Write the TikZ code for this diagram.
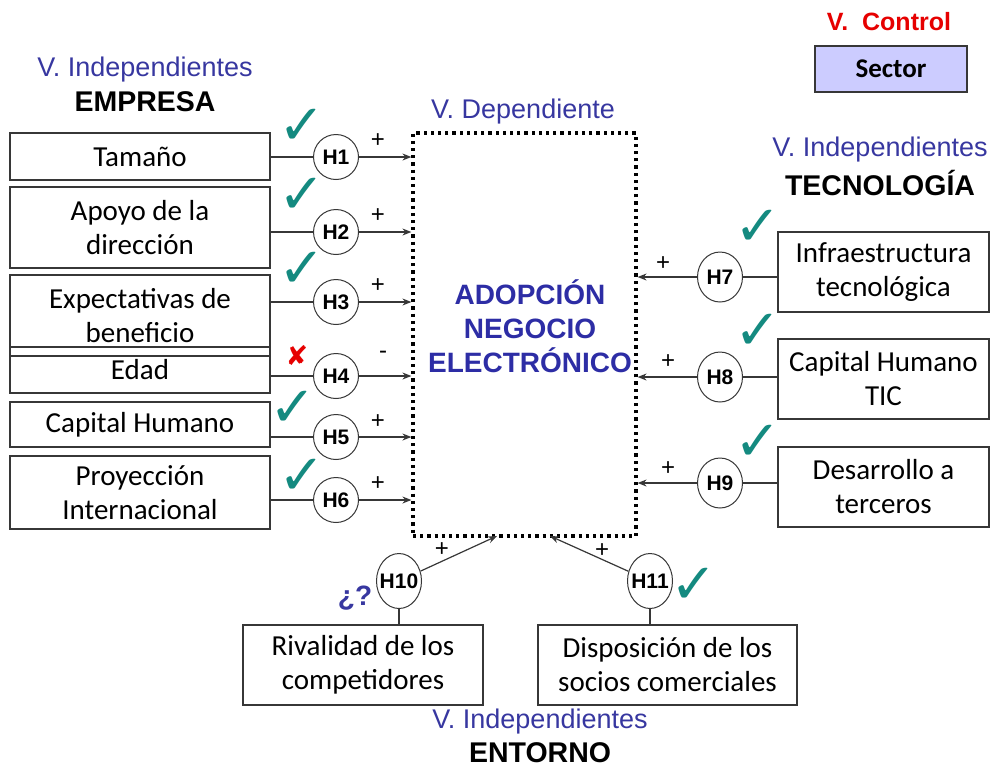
\documentclass[tikz,border=0pt]{standalone}
\usepackage{fontspec}
\setmainfont{Carlito}
\newfontfamily\arialf{Liberation Sans}
\newfontfamily\djv{DejaVu Sans}
\usetikzlibrary{shapes.geometric,arrows.meta}
\definecolor{vblue}{RGB}{55,55,160}
\definecolor{dblue}{RGB}{45,45,165}
\definecolor{teal2}{RGB}{20,138,128}
\definecolor{lav}{RGB}{204,204,255}
\definecolor{boxline}{RGB}{55,55,55}
\definecolor{ctrlred}{RGB}{230,0,0}
\newcommand{\hl}[1]{\makebox[0pt]{#1}}
\begin{document}
\begin{tikzpicture}[x=1pt,y=-1pt,
  vbox/.style={draw=boxline, line width=1.3pt, align=center, inner sep=0pt,
    font=\fontsize{29}{34}\selectfont},
  hyp/.style={ellipse, draw=boxline, fill=white, line width=1pt, minimum width=45pt,
    minimum height=45pt, inner sep=0pt, font=\arialf\bfseries\fontsize{21}{21}\selectfont},
  conn/.style={draw=boxline, line width=1.2pt},
  arr/.style={conn, -{Stealth[length=9pt,width=7pt]}},
  sign/.style={inner sep=0pt, font=\arialf\fontsize{24}{24}\selectfont},
  chk/.style={text=teal2, inner sep=0pt, font=\djv\fontsize{56}{56}\selectfont},
  vlab/.style={text=vblue, inner sep=0pt, font=\arialf\fontsize{27}{27}\selectfont},
  grp/.style={inner sep=0pt, font=\arialf\bfseries\fontsize{28.5}{28.5}\selectfont},
  dotbox/.style={draw=black, line width=3.2pt, dash pattern=on 3.2pt off 4pt, inner sep=0pt}
]
\useasboundingbox (0,0) rectangle (990,769);

% headings
\node[vlab] (lv) at (145,70) {V. Independientes};
\node[grp] (lg) at (145,102) {EMPRESA};
\node[vlab] (dv) at (523,112) {V. Dependiente};
\node[vlab] (rv) at (880,150) {V. Independientes};
\node[grp] (rg) at (880,183) {TECNOLOGÍA};
\node[vlab] (bv) at (540,722) {V. Independientes};
\node[grp] (bg) at (540,753) {ENTORNO};
\node[inner sep=0pt, text=ctrlred, font=\arialf\bfseries\fontsize{25}{25}\selectfont] (cv) at (889,22) {V.\ \ Control};
\node[vbox, fill=lav, minimum width=152pt, minimum height=46pt, font=\bfseries\fontsize{27}{30}\selectfont] (sec) at (891,69) {Sector};

% dependent variable
\node[dotbox, minimum width=223pt, minimum height=403pt] (dep) at (524.5,334.5) {};
\node[inner sep=0pt, align=center, text=dblue, font=\arialf\bfseries\fontsize{28}{34}\selectfont] (deptext) at (530,326) {ADOPCIÓN\\NEGOCIO\\ELECTRÓNICO};

% left boxes
\node[vbox, minimum width=260pt, minimum height=47pt] (tam) at (140,156.5) {Tamaño};
\node[vbox, minimum width=260pt, minimum height=81pt] (apo) at (140,227.5) {Apoyo de la\\dirección};
\node[vbox, minimum width=260pt, minimum height=81pt] (exp) at (140,315.5) {Expectativas de\\beneficio};
\node[vbox, minimum width=260pt, minimum height=46pt] (eda) at (140,370) {Edad};
\node[vbox, minimum width=260pt, minimum height=45pt] (cap) at (140,424.5) {Capital Humano};
\node[vbox, minimum width=260pt, minimum height=73pt] (pro) at (140,492.5) {Proyección\\Internacional};

% left hypotheses
\node[hyp] (h1) at (336,157) {\hl{H1}};
\node[hyp] (h2) at (336,232) {\hl{H2}};
\node[hyp] (h3) at (336,302) {\hl{H3}};
\node[hyp] (h4) at (336,376) {\hl{H4}};
\node[hyp] (h5) at (336,437) {\hl{H5}};
\node[hyp] (h6) at (336,500) {\hl{H6}};

\foreach \h/\b in {h1/tam,h2/apo,h3/exp,h4/eda,h5/cap,h6/pro}{
  \draw[conn] (\h.west -| \b.east) -- (\h.west);
  \draw[arr] (\h.east) -- (\h.east -| dep.west);
}
\node[sign] (s1) at (378,141) {+};
\node[sign] (s2) at (378,216) {+};
\node[sign] (s3) at (378,286) {+};
\node[sign] (s4) at (383,355) {-};
\node[sign] (s5) at (378,422) {+};
\node[sign] (s6) at (378,484) {+};

\node[chk] (c1) at (302,127) {✓};
\node[chk] (c2) at (302,196) {✓};
\node[chk] (c3) at (302,270) {✓};
\node[inner sep=0pt, text=ctrlred, font=\djv\fontsize{27}{27}\selectfont] (x4) at (297,356) {✘};
\node[chk] (c5) at (293,409) {✓};
\node[chk] (c6) at (302,477) {✓};

% right boxes
\node[vbox, minimum width=211pt, minimum height=80pt] (inf) at (883.5,272) {Infraestructura\\tecnológica};
\node[vbox, minimum width=211pt, minimum height=80pt] (tic) at (883.5,379) {Capital Humano\\TIC};
\node[vbox, minimum width=211pt, minimum height=80pt] (des) at (883.5,487) {Desarrollo a\\terceros};

\node[hyp, minimum height=50pt] (h7) at (720,277) {\hl{H7}};
\node[hyp, minimum height=50pt] (h8) at (720,377) {\hl{H8}};
\node[hyp, minimum height=50pt] (h9) at (720,483) {\hl{H9}};

\foreach \h/\b in {h7/inf,h8/tic,h9/des}{
  \draw[conn] (\h.east) -- (\h.east -| \b.west);
  \draw[arr] (\h.west) -- (\h.west -| dep.east);
}
\node[sign] (s7) at (663,264) {+};
\node[sign] (s8) at (668,362) {+};
\node[sign] (s9) at (668,469) {+};
\node[chk] (c7) at (758,228) {✓};
\node[chk] (c8) at (758,332) {✓};
\node[chk] (c9) at (758,443) {✓};

% bottom
\node[vbox, minimum width=240pt, minimum height=80pt] (riv) at (363,665) {Rivalidad de los\\competidores};
\node[vbox, minimum width=259pt, minimum height=80pt] (dis) at (667.5,665) {Disposición de los\\socios comerciales};
\node[hyp, minimum height=55pt] (h10) at (399,581) {\hl{H10}};
\node[hyp, minimum height=55pt] (h11) at (650,581) {\hl{H11}};
\coordinate (t10) at (497,536);
\coordinate (t11) at (550,536);
\draw[conn] (h10.south) -- (h10.south |- riv.north);
\draw[conn] (h11.south) -- (h11.south |- dis.north);
\draw[arr] (h10) -- (t10);
\draw[arr] (h11) -- (t11);
\node[sign] (s10) at (442,550) {+};
\node[sign] (s11) at (602,551) {+};
\node[chk] (c11) at (694,586) {✓};
\node[inner sep=0pt, text=vblue, font=\arialf\bfseries\fontsize{28}{28}\selectfont] (q10) at (355,598) {¿?};
\end{tikzpicture}
\end{document}
